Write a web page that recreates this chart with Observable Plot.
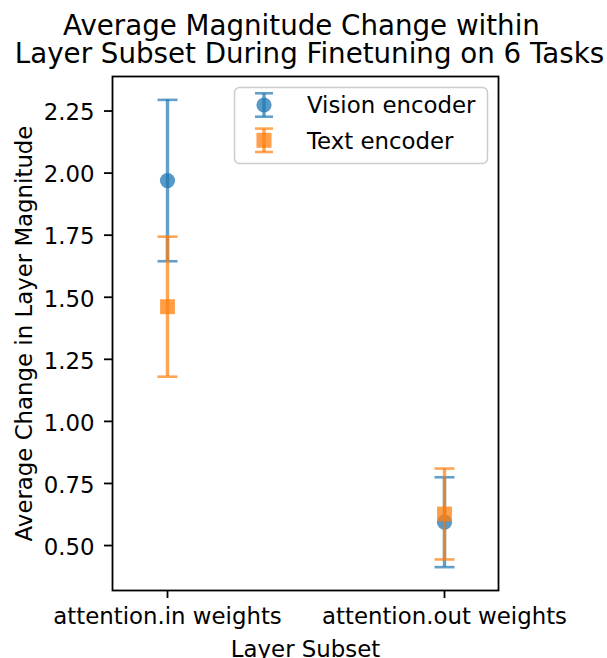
<!DOCTYPE html>
<html><head><meta charset="utf-8">
<script src="https://cdn.jsdelivr.net/npm/d3@7"></script>
<script src="https://cdn.jsdelivr.net/npm/@observablehq/plot@0.6"></script>
<style>
body{margin:0;background:#fff;}
#wrap{position:relative;width:607px;height:658px;overflow:hidden;font-family:"DejaVu Sans",sans-serif;background:#fff;}
#wrap svg{display:block;}
#legend{position:absolute;left:0;top:0;pointer-events:none;}
</style></head><body><div id="wrap"></div>
<script>
const categories = ["attention.in weights", "attention.out weights"];
const seriesNames = ["Vision encoder", "Text encoder"];
const visionMean = [1.970, 0.594];
const visionErr = [0.325, 0.181];
const textMean = [1.462, 0.627];
const textErr = [0.282, 0.183];
const yTicks = [0.50, 0.75, 1.00, 1.25, 1.50, 1.75, 2.00, 2.25];
const titleLines = ["Average Magnitude Change within", "Layer Subset During Finetuning on 6 Tasks"];
const xLabel = "Layer Subset";
const yLabel = "Average Change in Layer Magnitude";
const colors = ["#1f77b4", "#ff7f0e"];
const symbols = ["circle", "square"];

const rows = [];
[[visionMean, visionErr], [textMean, textErr]].forEach(([m, e], s) =>
  categories.forEach((c, i) => rows.push({series: seriesNames[s], category: c, mean: m[i], lo: m[i] - e[i], hi: m[i] + e[i]})));

const lo = d3.min(rows, d => d.lo), hi = d3.max(rows, d => d.hi);
const pad = (hi - lo) * 0.05;

const wrap = d3.select("#wrap");

// Title
const tsvg = wrap.append("svg").attr("width", 607).attr("height", 70);
const titleX = [301.5, 309.5], titleY = [35, 63];
titleLines.forEach((t, i) => tsvg.append("text").attr("x", titleX[i]).attr("y", titleY[i])
  .attr("text-anchor", "middle").attr("font-family", "DejaVu Sans").attr("font-size", 27.7).attr("fill", "#000").text(t));

const capSymbol = {draw(ctx, size) { const w = Math.sqrt(size / Math.PI); ctx.moveTo(-w, 0); ctx.lineTo(w, 0); }};
const markerR = [7.6, 8.4];

const dataMarks = seriesNames.flatMap((s, k) => {
  const d = rows.filter(r => r.series === s);
  return [
    Plot.ruleX(d, {x: "category", y1: "lo", y2: "hi", stroke: "series", strokeWidth: 3.4, strokeOpacity: 0.7}),
    Plot.dot(d, {x: "category", y: "lo", symbol: capSymbol, r: 10, stroke: "series", strokeWidth: 2.6, strokeOpacity: 0.7, fill: "none"}),
    Plot.dot(d, {x: "category", y: "hi", symbol: capSymbol, r: 10, stroke: "series", strokeWidth: 2.6, strokeOpacity: 0.7, fill: "none"}),
    Plot.dot(d, {x: "category", y: "mean", symbol: "series", r: markerR[k], fill: "series", fillOpacity: 0.75, stroke: "none"})
  ];
});

const chart = Plot.plot({
  width: 607, height: 588,
  marginLeft: 112, marginRight: 109, marginTop: 6, marginBottom: 68,
  style: {fontFamily: "DejaVu Sans", fontSize: "22.85px", color: "black", background: "white", overflow: "visible"},
  x: {type: "point", domain: categories, padding: 0.195},
  y: {domain: [lo - pad, hi + pad]},
  color: {domain: seriesNames, range: colors},
  symbol: {domain: seriesNames, range: symbols},
  marks: [
    ...dataMarks,
    Plot.frame({stroke: "black", strokeWidth: 1.8}),
    Plot.axisX({tickSize: 8, tickPadding: 9, label: null, strokeWidth: 1.8}),
    Plot.axisY({ticks: yTicks, tickSize: 8, text: null, label: null, strokeWidth: 1.8}),
    Plot.axisY({ticks: yTicks, tickSize: 0, tickPadding: 18, dy: 2, tickFormat: d3.format(".2f"), label: null}),
    Plot.text([xLabel], {text: d => d, frameAnchor: "bottom", textAnchor: "middle", lineAnchor: "bottom", dy: 66}),
    Plot.text([yLabel], {text: d => d, frameAnchor: "left", textAnchor: "middle", rotate: -90, lineAnchor: "bottom", dx: -81})
  ]
});
wrap.node().appendChild(chart);

// Legend overlay
const lg = wrap.append("svg").attr("id", "legend").attr("width", 607).attr("height", 658);
lg.append("rect").attr("x", 234.5).attr("y", 87.5).attr("width", 253).attr("height", 76).attr("rx", 5)
  .attr("fill", "white").attr("fill-opacity", 0.8).attr("stroke", "#cccccc").attr("stroke-width", 1.5);
const rowY = [105, 140.3];
seriesNames.forEach((s, i) => {
  const g = lg.append("g").attr("transform", `translate(264,${rowY[i]})`);
  g.append("line").attr("y1", -11.7).attr("y2", 11.7).attr("stroke", colors[i]).attr("stroke-width", 3.4).attr("stroke-opacity", 0.7);
  [-11.7, 11.7].forEach(y => g.append("line").attr("x1", -9).attr("x2", 9).attr("y1", y).attr("y2", y)
    .attr("stroke", colors[i]).attr("stroke-width", 2.6).attr("stroke-opacity", 0.7));
  if (symbols[i] === "circle") g.append("circle").attr("r", 7.6).attr("fill", colors[i]).attr("fill-opacity", 0.75);
  else g.append("rect").attr("x", -7.5).attr("y", -7.5).attr("width", 15).attr("height", 15).attr("fill", colors[i]).attr("fill-opacity", 0.75);
  lg.append("text").attr("x", 307).attr("y", rowY[i] + 8.2).attr("font-family", "DejaVu Sans").attr("font-size", 22.85)
    .attr("fill", "#000").text(s);
});
</script></body></html>
